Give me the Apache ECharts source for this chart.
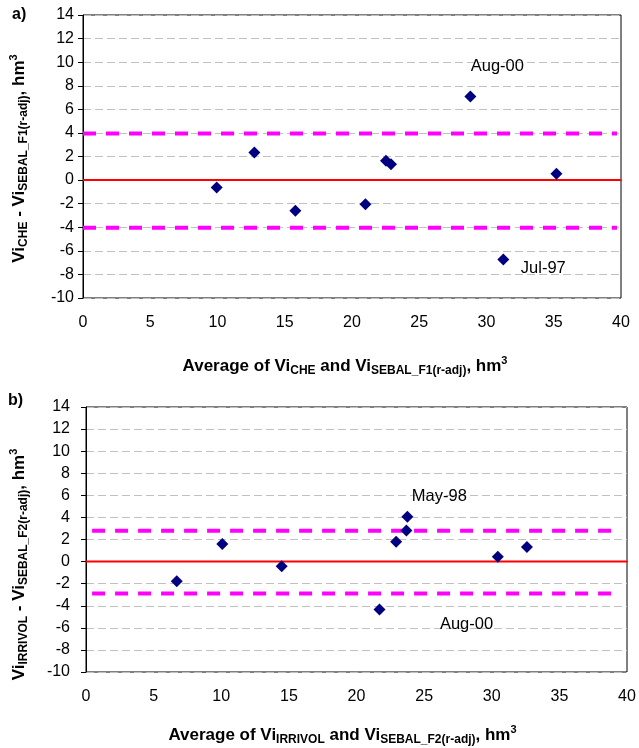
<!DOCTYPE html>
<html><head><meta charset="utf-8">
<script src="https://cdn.jsdelivr.net/npm/echarts@6/dist/echarts.min.js"></script>
<style>html,body{margin:0;padding:0;background:#fff}#c{width:639px;height:748px}</style>
</head><body><div id="c"></div>
<script>
// ---- data ----
var xTicks = [0, 5, 10, 15, 20, 25, 30, 35, 40];
var yTicks = [-10, -8, -6, -4, -2, 0, 2, 4, 6, 8, 10, 12, 14];

var avgA  = [9.94, 12.74, 15.79, 21.0, 22.53, 22.9, 28.8, 31.25, 35.2];
var diffA = [-0.63, 2.33, -2.6, -2.04, 1.63, 1.35, 7.08, -6.73, 0.53];
var labelsA = ['', '', '', '', '', '', 'Aug-00', 'Jul-97', ''];
var meanA = 0;
var upperA = 3.95;
var lowerA = -4.05;
var limitSpanA = [0, 39.7];

var avgB  = [6.71, 10.08, 14.47, 21.7, 22.93, 23.69, 23.76, 30.45, 32.6];
var diffB = [-1.77, 1.6, -0.42, -4.34, 1.8, 2.81, 4.05, 0.43, 1.33];
var labelsB = ['', '', '', 'Aug-00', '', '', 'May-98', '', ''];
var meanB = 0;
var upperB = 2.8;
var lowerB = -2.9;
var limitSpanB = [0.45, 39.5];

// ---- styles ----
var FONT = 'Liberation Sans, Arial, sans-serif';
var labelOffsets = {
  'Aug-00_A': [27, -30], 'Jul-97_A': [40, 9],
  'May-98_B': [32, -20], 'Aug-00_B': [87, 15]
};
function pts(xs, ys, labs, tag) {
  return xs.map(function (x, i) {
    var d = {value: [x, ys[i]]};
    if (labs[i]) {
      d.label = {show: true, formatter: labs[i], position: 'inside',
        offset: labelOffsets[labs[i] + '_' + tag], color: '#000',
        fontSize: 16.5, fontFamily: FONT};
    }
    return d;
  });
}
var rich = {
  b: {fontSize: 17, fontWeight: 'bold', fontFamily: FONT, lineHeight: 22, color: '#000'},
  sub: {fontSize: 12, fontWeight: 'bold', fontFamily: FONT, lineHeight: 13, verticalAlign: 'bottom', color: '#000'},
  sup: {fontSize: 11, fontWeight: 'bold', fontFamily: FONT, lineHeight: 11, verticalAlign: 'top', color: '#000'}
};
function xAxis(gi, title, gap, pad) {
  return {
    gridIndex: gi, type: 'value', min: 0, max: 40, interval: 5,
    axisLine: {show: true, lineStyle: {color: '#000', width: 1}},
    axisTick: {show: false}, splitLine: {show: false},
    axisLabel: {color: '#000', fontSize: 16, fontFamily: FONT, margin: 17},
    name: title, nameLocation: 'middle', nameGap: gap,
    nameTextStyle: {rich: rich, padding: pad}
  };
}
function yAxis(gi, title, gap, lm, pad) {
  return {
    gridIndex: gi, type: 'value', min: -10, max: 14, interval: 2,
    axisLine: {show: true, onZero: false, lineStyle: {color: '#000', width: 1}},
    axisTick: {show: true, inside: false, length: 5, lineStyle: {color: '#000'}},
    splitLine: {show: true, lineStyle: {color: '#c0c0c0', type: [8, 4], width: 1}},
    axisLabel: {color: '#000', fontSize: 16, fontFamily: FONT, margin: lm},
    name: title, nameLocation: 'middle', nameGap: gap, nameRotate: 90,
    nameTextStyle: {rich: rich, padding: pad}
  };
}
function hline(gi, y, span, color, width, type, z) {
  return {type: 'line', xAxisIndex: gi, yAxisIndex: gi, silent: true, symbol: 'none',
    data: [[span[0], y], [span[1], y]], z: z,
    lineStyle: {color: color, width: width, type: type}};
}
function scatter(gi, data) {
  return {type: 'scatter', xAxisIndex: gi, yAxisIndex: gi, symbol: 'diamond',
    symbolSize: 12, itemStyle: {color: '#000080', opacity: 1}, data: data, z: 5};
}

var chart = echarts.init(document.getElementById('c'), null, {renderer: 'canvas'});
chart.setOption({
  animation: false,
  backgroundColor: '#fff',
  grid: [
    {left: 83, top: 15, width: 538, height: 283, show: true, borderColor: '#000', borderWidth: 1, backgroundColor: 'transparent'},
    {left: 86, top: 407, width: 541, height: 265, show: true, borderColor: '#000', borderWidth: 1, backgroundColor: 'transparent'}
  ],
  xAxis: [
    xAxis(0, '{b|Average of Vi}{sub|CHE}{b| and Vi}{sub|SEBAL_F1(r-adj)}{b|, hm}{sup|3}', 57, [0, 14, 0, 0]),
    xAxis(1, '{b|Average of Vi}{sub|IRRIVOL}{b| and Vi}{sub|SEBAL_F2(r-adj)}{b|, hm}{sup|3}', 52, [0, 28, 0, 0])
  ],
  yAxis: [
    yAxis(0, '{b|Vi}{sub|CHE}{b| - Vi}{sub|SEBAL_F1(r-adj)}{b|, hm}{sup|3}', 53, 9, [0, 4, 0, 0]),
    yAxis(1, '{b|Vi}{sub|IRRIVOL}{b| - Vi}{sub|SEBAL_F2(r-adj)}{b|, hm}{sup|3}', 56, 16, [0, 50, 0, 0])
  ],
  graphic: [
    {type: 'text', left: 12, top: 7, style: {text: 'a)', font: 'bold 16px ' + FONT, fill: '#000'}},
    {type: 'text', left: 8, top: 393, style: {text: 'b)', font: 'bold 16px ' + FONT, fill: '#000'}}
  ],
  series: [
    hline(0, meanA, [0, 40], '#ff0000', 2, 'solid', 3),
    hline(0, upperA, limitSpanA, '#ff00ff', 4, [13, 10], 3),
    hline(0, lowerA, limitSpanA, '#ff00ff', 4, [13, 10], 3),
    scatter(0, pts(avgA, diffA, labelsA, 'A')),
    hline(1, meanB, [0, 40], '#ff0000', 2, 'solid', 3),
    hline(1, upperB, limitSpanB, '#ff00ff', 4, [13, 10], 3),
    hline(1, lowerB, limitSpanB, '#ff00ff', 4, [13, 10], 3),
    scatter(1, pts(avgB, diffB, labelsB, 'B'))
  ]
});
</script></body></html>
